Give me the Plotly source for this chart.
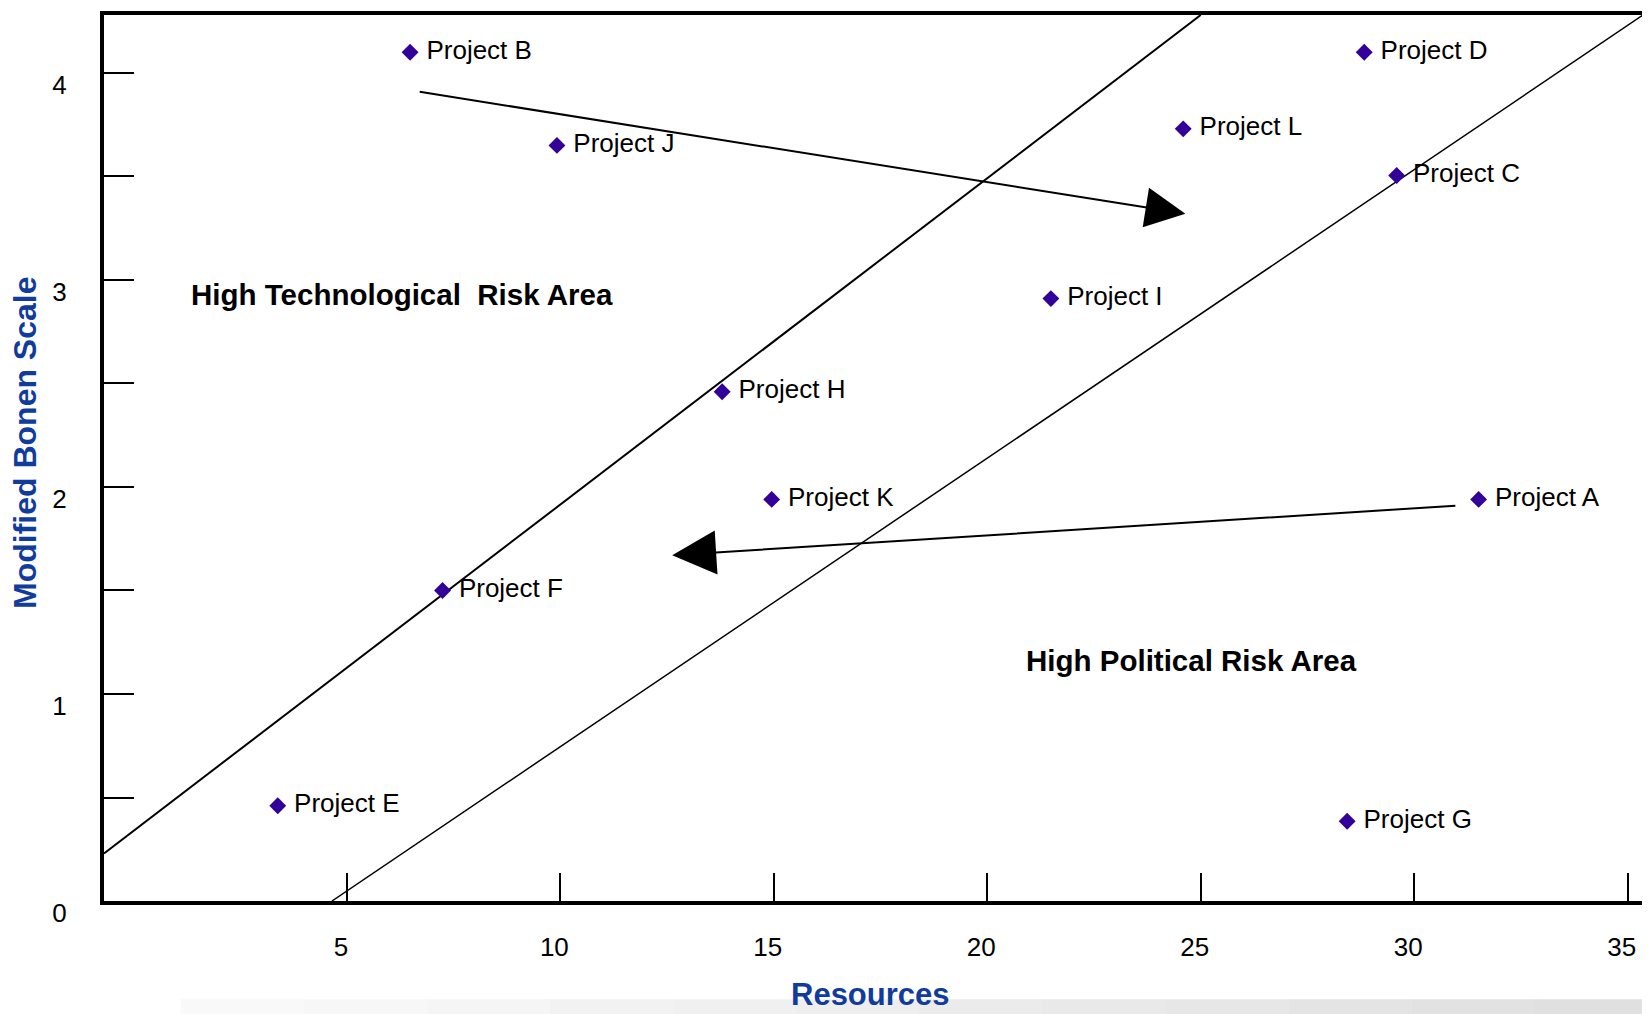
import plotly.graph_objects as go

# ---- data ----
projects = ["Project B", "Project J", "Project D", "Project L", "Project C", "Project I",
            "Project H", "Project K", "Project A", "Project F", "Project E", "Project G"]
resources = [6.48, 9.92, 28.83, 24.59, 29.59, 21.49, 13.79, 14.95, 31.51, 7.24, 3.38, 28.43]
bonen = [4.10, 3.65, 4.10, 3.73, 3.505, 2.91, 2.46, 1.94, 1.94, 1.50, 0.46, 0.385]

# boundary lines (x, y endpoints)
line1_x = [-0.69, 25.0]
line1_y = [0.23, 4.28]
line2_x = [4.65, 35.36]
line2_y = [0.0, 4.28]

# arrows: (tail_x, tail_y, head_x, head_y)
arrow1 = (6.67, 3.91, 24.64, 3.32)
arrow2 = (31.0, 1.91, 12.62, 1.67)

area_labels = ["High Technological\u00a0\u00a0Risk Area", "High Political Risk Area"]
area_x = [6.28, 24.79]
area_y = [2.93, 1.16]

x_ticks = [5, 10, 15, 20, 25, 30, 35]
y_ticks = [0, 1, 2, 3, 4]

FONT = "Arial, 'Liberation Sans', sans-serif"
BLUE = "#123c9c"

fig = go.Figure()

fig.add_trace(go.Scatter(x=line1_x, y=line1_y, mode="lines",
                         line=dict(color="black", width=2), hoverinfo="skip", showlegend=False))
fig.add_trace(go.Scatter(x=line2_x, y=line2_y, mode="lines",
                         line=dict(color="black", width=1.5), hoverinfo="skip", showlegend=False))

fig.add_trace(go.Scatter(
    x=resources, y=bonen, mode="markers+text", text=projects,
    texttemplate="\u00a0%{text}",
    textposition="middle right",
    textfont=dict(family=FONT, size=26, color="black"),
    marker=dict(symbol="diamond", size=13, color="#330099"),
    showlegend=False, cliponaxis=False))

for (tx, ty, hx, hy), asz in ((arrow1, 4.0), (arrow2, 4.4)):
    fig.add_annotation(x=hx, y=hy, ax=tx, ay=ty, xref="x", yref="y", axref="x", ayref="y",
                       showarrow=True, arrowhead=2, arrowsize=asz, arrowwidth=2,
                       arrowcolor="black", text="")

for t, x, y in zip(area_labels, area_x, area_y):
    fig.add_annotation(x=x, y=y, xref="x", yref="y", text=t, showarrow=False,
                       font=dict(family=FONT, size=29.5, color="black", weight="bold"))

fig.add_annotation(x=0.498, y=-0.105, xref="paper", yref="paper", text="Resources",
                   xanchor="center", yanchor="middle", showarrow=False,
                   font=dict(family=FONT, size=31, color=BLUE, weight="bold"))
fig.add_annotation(x=-0.0513, y=0.517, xref="paper", yref="paper", text="Modified Bonen Scale",
                   xanchor="center", yanchor="middle", textangle=-90, showarrow=False,
                   font=dict(family=FONT, size=32, color=BLUE, weight="bold"))

# faint grey band at the very bottom
n = 12
x_start, x_end = 0.05, 1.01
for i in range(n):
    g = int(252 - 28 * (i + 1) / n)
    fig.add_shape(type="rect", xref="paper", yref="paper",
                  x0=x_start + i * (x_end - x_start) / n,
                  x1=x_start + (i + 1) * (x_end - x_start) / n + 0.001,
                  y0=-0.13, y1=-0.111, line=dict(width=0),
                  fillcolor=f"rgb({g},{g},{g})", layer="below")

fig.update_xaxes(range=[-0.69, 35.36], tickvals=x_ticks, ticktext=[str(v) for v in x_ticks],
                 ticks="inside", ticklen=28, tickwidth=1.5, tickcolor="black",
                 showline=True, linewidth=4, linecolor="black", mirror=True,
                 showgrid=False, zeroline=False, ticklabelstandoff=20, ticklabelshift=-6,
                 tickfont=dict(family=FONT, size=26, color="black"))
fig.update_yaxes(range=[0, 4.28], tickvals=y_ticks, ticktext=[str(v) for v in y_ticks],
                 ticks="inside", ticklen=30, tickwidth=1.5, tickcolor="black",
                 minor=dict(dtick=0.5, tick0=0, ticks="inside", ticklen=30, tickwidth=1.5,
                            tickcolor="black", showgrid=False),
                 showline=True, linewidth=4, linecolor="black", mirror=True,
                 showgrid=False, zeroline=False, ticklabelstandoff=28, ticklabelshift=12,
                 tickfont=dict(family=FONT, size=26, color="black"))

fig.update_layout(width=1642, height=1006, margin=dict(l=96, r=5, t=3, b=113),
                  plot_bgcolor="white", paper_bgcolor="white")

fig.write_html("out.html")
